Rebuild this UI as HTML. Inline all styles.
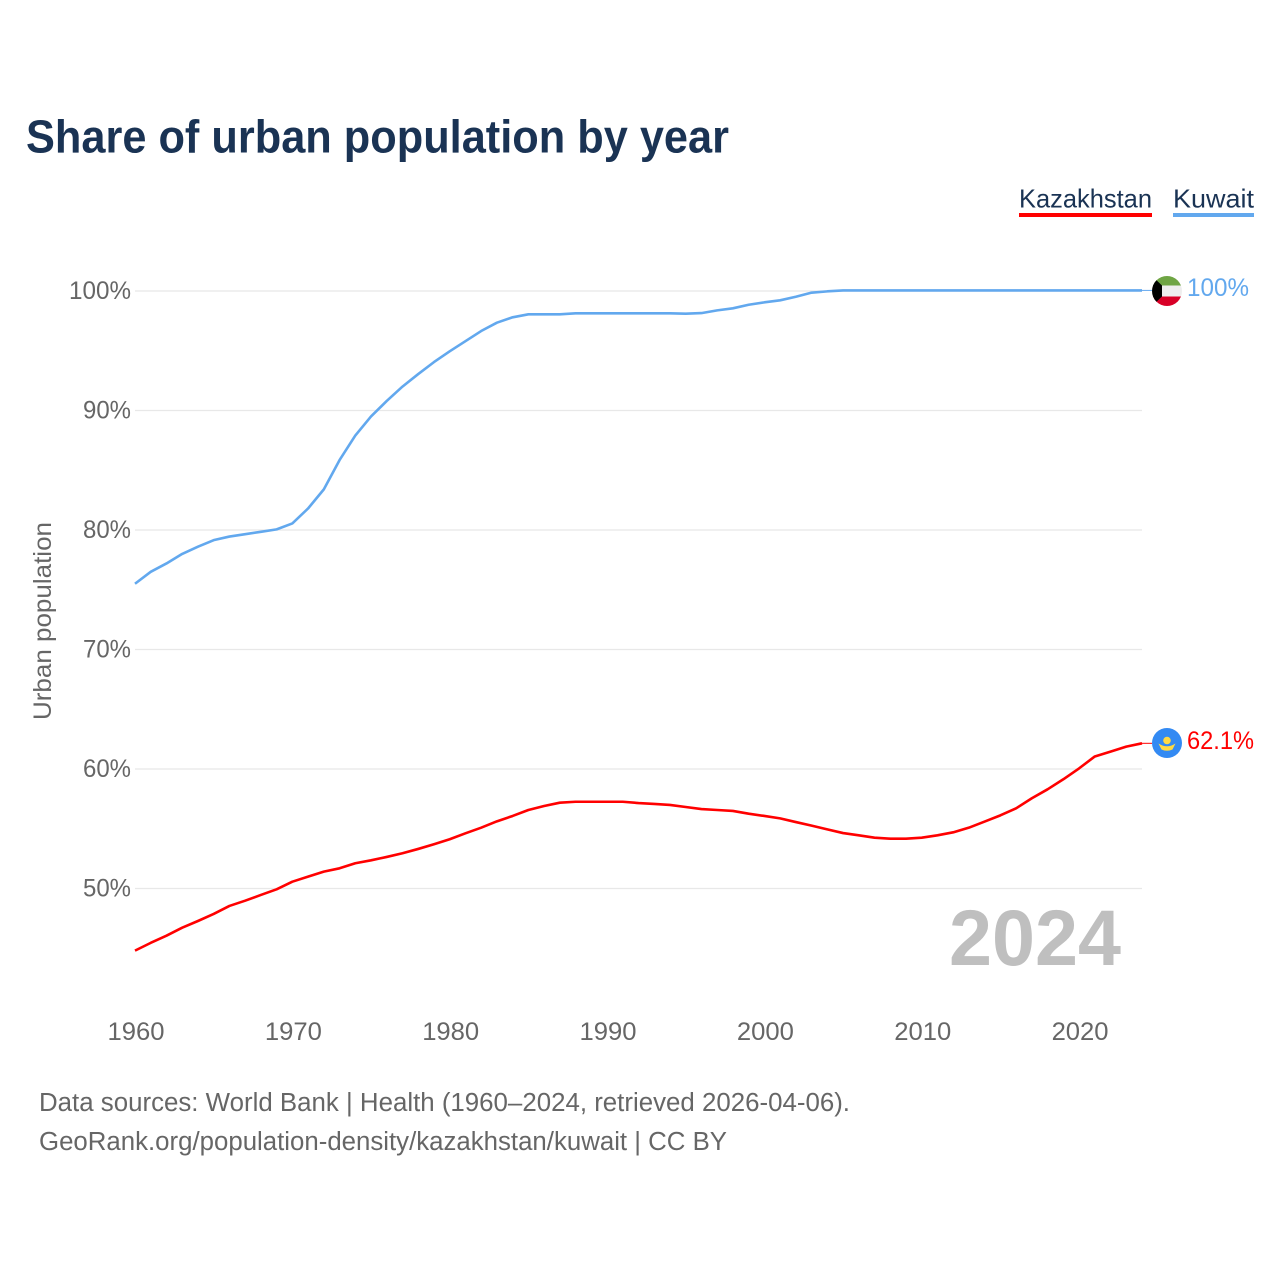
<!DOCTYPE html>
<html lang="en">
<head>
<meta charset="utf-8">
<title>Share of urban population by year</title>
<style>
html,body{margin:0;padding:0;background:#fff;width:1280px;height:1280px;overflow:hidden}
svg{display:block;font-family:"Liberation Sans",sans-serif}
</style>
</head>
<body>
<svg id="chart" xmlns="http://www.w3.org/2000/svg" width="1280" height="1280" viewBox="0 0 1280 1280">
  <defs>
    <clipPath id="flag-clip-kw"><circle cx="1167" cy="291" r="15"/></clipPath>
    <clipPath id="flag-clip-kz"><circle cx="1167" cy="743" r="15"/></clipPath>
  </defs>
  <rect width="1280" height="1280" fill="#fff"/>
  <text x="26" y="152.500" font-size="46" font-weight="700" fill="#1a3354" textLength="703" lengthAdjust="spacingAndGlyphs">Share of urban population by year</text>

  <g>
    <text x="1019" y="207.500" font-size="26" fill="#1a3354" textLength="133" lengthAdjust="spacingAndGlyphs">Kazakhstan</text>
    <rect x="1019" y="213" width="133" height="4" fill="#ff0000"/>
  </g>
  <g>
    <text x="1173" y="207.500" font-size="26" fill="#1a3354" textLength="81" lengthAdjust="spacingAndGlyphs">Kuwait</text>
    <rect x="1173" y="213" width="81" height="4" fill="#62a8ee"/>
  </g>

  <g id="grid"></g>
  <g id="y-ticks"></g>
  <g id="x-ticks"></g>

  <text transform="translate(51 621) rotate(-90)" text-anchor="middle" font-size="25" fill="#666" textLength="198" lengthAdjust="spacingAndGlyphs">Urban population</text>

  <text x="949" y="965" font-size="79" font-weight="700" fill="#bfbfbf" textLength="172" lengthAdjust="spacingAndGlyphs">2024</text>

  <g id="series"></g>

  <g clip-path="url(#flag-clip-kw)">
    <rect x="1152" y="276" width="30" height="9.500" fill="#6fa544"/>
    <rect x="1152" y="285.500" width="30" height="11" fill="#eeeeee"/>
    <rect x="1152" y="296.500" width="30" height="9.500" fill="#d80027"/>
    <polygon points="1152,276 1162,285.500 1162,296.500 1152,306" fill="#000"/>
  </g>
  <g clip-path="url(#flag-clip-kz)">
    <rect x="1152" y="728" width="30" height="30" fill="#338af3"/>
    <circle cx="1167" cy="740.500" r="3.800" fill="#ffda44"/>
    <path d="M1158.500 743.500 Q1167 749 1175.500 743.500 L1172.500 749.500 Q1167 752 1161.500 749.500 Z" fill="#ffda44"/>
  </g>
  <text id="end-label-kuwait" x="1187" y="296" font-size="25" fill="#62a8ee" textLength="62" lengthAdjust="spacingAndGlyphs">100%</text>
  <text id="end-label-kazakhstan" x="1187" y="749" font-size="25" fill="#ff0000" textLength="67" lengthAdjust="spacingAndGlyphs">62.1%</text>

  <text x="39" y="1111" font-size="25.500" fill="#666" textLength="811" lengthAdjust="spacingAndGlyphs">Data sources: World Bank | Health (1960–2024, retrieved 2026-04-06).</text>
  <text x="39" y="1150" font-size="25.500" fill="#666" textLength="688" lengthAdjust="spacingAndGlyphs">GeoRank.org/population-density/kazakhstan/kuwait | CC BY</text>
</svg>
<script>
const startYear = 1960;
const xTickYears = [1960, 1970, 1980, 1990, 2000, 2010, 2020];
const yTickValues = [50, 60, 70, 80, 90, 100];
const kuwaitValues = [75.45,76.45,77.15,77.95,78.55,79.1,79.4,79.6,79.8,80.0,80.5,81.75,83.35,85.8,87.85,89.45,90.75,91.95,93.0,94.0,94.9,95.75,96.6,97.3,97.75,98.0,98.0,98.0,98.08,98.08,98.08,98.08,98.08,98.08,98.08,98.05,98.1,98.33,98.5,98.8,99.0,99.17,99.47,99.81,99.92,100,100,100,100,100,100,100,100,100,100,100,100,100,100,100,100,100,100,100,100];
const kazakhstanValues = [44.75,45.4,46.0,46.67,47.23,47.82,48.49,48.93,49.41,49.88,50.52,50.94,51.36,51.64,52.06,52.31,52.59,52.9,53.26,53.65,54.07,54.57,55.04,55.57,56.02,56.52,56.85,57.13,57.21,57.21,57.21,57.21,57.1,57.03,56.94,56.77,56.6,56.52,56.44,56.21,56.02,55.82,55.51,55.21,54.9,54.59,54.4,54.2,54.12,54.12,54.2,54.4,54.65,55.04,55.55,56.07,56.66,57.5,58.25,59.09,60.0,61.0,61.4,61.82,62.1];

const NS = 'http://www.w3.org/2000/svg';
const plotLeft = 135;
const plotRight = 1142;
const xAt = year => plotLeft + (year - 1960) * (plotRight - plotLeft) / 64;
const yAt = value => 290.4 + (100 - value) * 11.95;
const gridOffset = 0.6;

const grid = document.getElementById('grid');
const yTicks = document.getElementById('y-ticks');
const xTicks = document.getElementById('x-ticks');
const series = document.getElementById('series');

yTickValues.forEach(value => {
  const line = document.createElementNS(NS, 'line');
  
  
  line.setAttribute('x1', plotLeft);
  line.setAttribute('x2', plotRight);
  line.setAttribute('y1', yAt(value) + gridOffset);
  line.setAttribute('y2', yAt(value) + gridOffset);
  line.setAttribute('stroke', '#e8e8e8');
  line.setAttribute('stroke-width', '1.2');
  grid.appendChild(line);

  const label = document.createElementNS(NS, 'text');
  
  
  label.setAttribute('x', 131);
  label.setAttribute('y', yAt(value) + 8.8);
  label.setAttribute('text-anchor', 'end');
  label.setAttribute('font-size', '25');
  label.setAttribute('fill', '#666');
  label.setAttribute('textLength', value === 100 ? 62 : 48);
  label.setAttribute('lengthAdjust', 'spacingAndGlyphs');
  label.textContent = value + '%';
  yTicks.appendChild(label);
});

xTickYears.forEach(year => {
  const label = document.createElementNS(NS, 'text');
  
  
  label.setAttribute('x', xAt(year) + 1);
  label.setAttribute('y', 1040);
  label.setAttribute('text-anchor', 'middle');
  label.setAttribute('font-size', '25');
  label.setAttribute('fill', '#666');
  label.setAttribute('textLength', 57);
  label.setAttribute('lengthAdjust', 'spacingAndGlyphs');
  label.textContent = year;
  xTicks.appendChild(label);
});

function pathFor(values) {
  return values.map((v, i) => (i ? 'L' : 'M') + xAt(startYear + i).toFixed(2) + ' ' + yAt(v).toFixed(2)).join(' ');
}

const kuwaitLine = document.createElementNS(NS, 'path');


kuwaitLine.setAttribute('d', pathFor(kuwaitValues));
kuwaitLine.setAttribute('fill', 'none');
kuwaitLine.setAttribute('stroke', '#62a8ee');
kuwaitLine.setAttribute('stroke-width', '2.6');
kuwaitLine.setAttribute('stroke-linejoin', 'round');
series.appendChild(kuwaitLine);

const kazakhstanLine = document.createElementNS(NS, 'path');


kazakhstanLine.setAttribute('d', pathFor(kazakhstanValues));
kazakhstanLine.setAttribute('fill', 'none');
kazakhstanLine.setAttribute('stroke', '#ff0000');
kazakhstanLine.setAttribute('stroke-width', '2.6');
kazakhstanLine.setAttribute('stroke-linejoin', 'round');
series.appendChild(kazakhstanLine);

const kuwaitLast = kuwaitValues[kuwaitValues.length - 1];
const kuwaitConnector = document.createElementNS(NS, 'line');


kuwaitConnector.setAttribute('x1', plotRight);
kuwaitConnector.setAttribute('x2', 1152);
kuwaitConnector.setAttribute('y1', yAt(kuwaitLast));
kuwaitConnector.setAttribute('y2', yAt(kuwaitLast));
kuwaitConnector.setAttribute('stroke', '#62a8ee');
kuwaitConnector.setAttribute('stroke-width', '1');
series.appendChild(kuwaitConnector);

const kazakhstanLast = kazakhstanValues[kazakhstanValues.length - 1];
const kazakhstanConnector = document.createElementNS(NS, 'line');


kazakhstanConnector.setAttribute('x1', plotRight);
kazakhstanConnector.setAttribute('x2', 1152);
kazakhstanConnector.setAttribute('y1', yAt(kazakhstanLast));
kazakhstanConnector.setAttribute('y2', yAt(kazakhstanLast));
kazakhstanConnector.setAttribute('stroke', '#ff0000');
kazakhstanConnector.setAttribute('stroke-width', '1');
series.appendChild(kazakhstanConnector);
</script>
</body>
</html>
